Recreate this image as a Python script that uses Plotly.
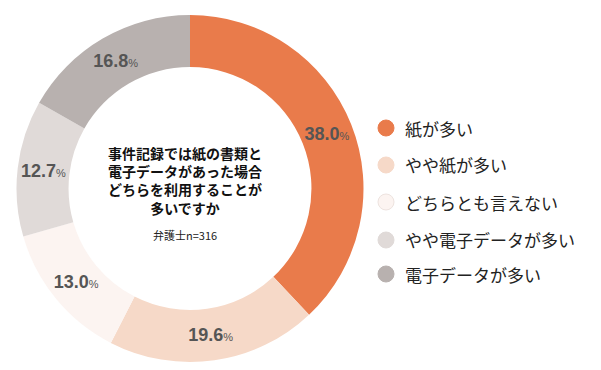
import plotly.graph_objects as go

categories = ["紙が多い", "やや紙が多い", "どちらとも言えない", "やや電子データが多い", "電子データが多い"]
values = [38.0, 19.6, 13.0, 12.7, 16.8]
colors = ["#E97B4B", "#F6D9C8", "#FCF4F1", "#E0DAD8", "#B8B1AF"]
center_lines = ["事件記録では紙の書類と", "電子データがあった場合", "どちらを利用することが", "多いですか"]
sample_note = "弁護士n=316"

# the page body has an 8px margin; draw on a figure that fits inside it
OFF = 8
W, H = 601 - OFF, 370 - OFF
cx, cy, R = 190 - OFF, 188.5 - OFF, 173.5
FONT = "Liberation Sans, Arial, Noto Sans CJK JP, sans-serif"
JFONT = "Noto Sans CJK JP, sans-serif"


def px(x):
    return (x - OFF) / W


def py(y):
    return (H - (y - OFF)) / H


fig = go.Figure()
fig.add_trace(go.Pie(
    labels=categories,
    values=values,
    sort=False,
    direction="clockwise",
    rotation=0,
    hole=0.70,
    marker=dict(colors=colors, line=dict(width=0)),
    texttemplate="<b>%{value:.1f}</b><span style='font-size:11px'>%</span>",
    textposition="inside",
    insidetextorientation="horizontal",
    textfont=dict(family=FONT, size=18, color="#555555"),
    showlegend=False,
    domain=dict(x=[(cx - R) / W, (cx + R) / W], y=[(H - cy - R) / H, (H - cy + R) / H]),
))

annotations = []
shapes = []
# center text
annotations.append(dict(
    x=px(185), y=py(181), xref="paper", yref="paper",
    text="<br>".join(f"<b>{l}</b>" for l in center_lines), showarrow=False,
    xanchor="center", yanchor="middle", align="center",
    font=dict(family=JFONT, size=14, color="#111111"),
))
annotations.append(dict(
    x=px(185), y=py(235), xref="paper", yref="paper",
    text=sample_note, showarrow=False, xanchor="center", yanchor="middle",
    font=dict(family=JFONT, size=11, color="#222222"),
))

# legend
leg_y = [128, 165, 202, 240, 274]
for cat, col, ly in zip(categories, colors, leg_y):
    r = 8
    shapes.append(dict(
        type="circle", xref="paper", yref="paper",
        x0=px(386 - r), x1=px(386 + r), y0=py(ly + r), y1=py(ly - r),
        fillcolor=col, line=dict(color="#EDE3DF" if col == "#FCF4F1" else col, width=1),
    ))
    annotations.append(dict(
        x=px(403), y=py(ly), xref="paper", yref="paper",
        text=cat, showarrow=False, xanchor="left", yanchor="middle",
        font=dict(family=JFONT, size=17, color="#222222"),
    ))

fig.update_layout(
    width=W, height=H,
    margin=dict(l=0, r=0, t=0, b=0),
    paper_bgcolor="white", plot_bgcolor="white",
    annotations=annotations, shapes=shapes,
)
fig.write_html("out.html")
